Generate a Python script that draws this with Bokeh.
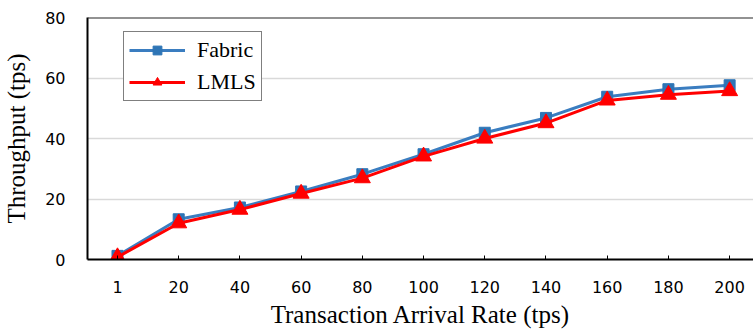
from bokeh.plotting import figure
from bokeh.models import Range1d, FixedTicker, Span
from bokeh.embed import file_html
from bokeh.resources import INLINE

# ---- data ----
categories = ["1", "20", "40", "60", "80", "100", "120", "140", "160", "180", "200"]
fabric = [1.2, 13.3, 17.2, 22.5, 28.2, 34.8, 41.9, 46.8, 53.8, 56.3, 57.6]
lmls = [0.8, 12.0, 16.5, 21.8, 26.9, 34.1, 40.0, 45.1, 52.6, 54.5, 55.7]
y_ticks = [0, 20, 40, 60, 80]

xs = list(range(len(categories)))

p = figure(width=753, height=333, output_backend="svg", toolbar_location=None,
           x_range=Range1d(-0.49, 10.39), y_range=Range1d(0, 80),
           min_border_left=87, min_border_top=17, min_border_right=0, min_border_bottom=74)

p.outline_line_color = None
p.background_fill_color = "white"
p.border_fill_color = "white"

# grid
p.xgrid.grid_line_color = None
p.ygrid.grid_line_color = "#d9d9d9"
p.ygrid.grid_line_width = 1.5
p.ygrid.ticker = FixedTicker(ticks=y_ticks)

# top border
p.add_layout(Span(location=80, dimension="width", line_color="#262626", line_width=2))

# series
blue = "#3a7dc0"
red = "#ff0000"
p.line(xs, fabric, line_color=blue, line_width=3, legend_label="Fabric")
p.scatter(xs, fabric, marker="square", size=11, fill_color="#2e75b6", line_color="#2e75b6",
          legend_label="Fabric")
p.line(xs, lmls, line_color=red, line_width=3, legend_label="LMLS")
p.scatter(xs, lmls, marker="triangle", size=16, fill_color=red, line_color=red,
          legend_label="LMLS")

# x axis
xa = p.xaxis[0]
xa.ticker = FixedTicker(ticks=xs)
xa.major_label_overrides = {i: c for i, c in enumerate(categories)}
xa.axis_line_color = "black"
xa.axis_line_width = 2
xa.major_tick_in = 4
xa.major_tick_out = 0
xa.major_tick_line_color = "black"
xa.major_tick_line_width = 1
xa.minor_tick_line_color = None
xa.major_label_text_font = "DejaVu Sans"
xa.major_label_text_font_size = "16px"
xa.major_label_text_color = "black"
xa.major_label_standoff = 21
xa.axis_label = "Transaction Arrival Rate (tps)"
xa.axis_label_text_font = "Liberation Serif"
xa.axis_label_text_font_size = "25px"
xa.axis_label_text_font_style = "normal"
xa.axis_label_text_color = "black"
xa.axis_label_standoff = 5

# y axis
ya = p.yaxis[0]
ya.ticker = FixedTicker(ticks=y_ticks)
ya.axis_line_color = "black"
ya.axis_line_width = 2
ya.major_tick_line_color = None
ya.minor_tick_line_color = None
ya.major_tick_in = 0
ya.major_tick_out = 0
ya.major_label_text_font = "DejaVu Sans"
ya.major_label_text_font_size = "16px"
ya.major_label_text_color = "black"
ya.major_label_standoff = 22
ya.axis_label = "Throughput (tps)"
ya.axis_label_text_font = "Liberation Serif"
ya.axis_label_text_font_size = "25px"
ya.axis_label_text_font_style = "normal"
ya.axis_label_text_color = "black"
ya.axis_label_standoff = 12

# legend
lg = p.legend[0]
lg.location = (36, 158)
lg.border_line_color = "black"
lg.border_line_width = 1.5
lg.background_fill_color = "white"
lg.background_fill_alpha = 1
lg.label_text_font = "Liberation Serif"
lg.label_text_font_size = "22px"
lg.label_text_color = "black"
lg.padding = 5
lg.spacing = 6
lg.margin = 0
lg.glyph_width = 56
lg.glyph_height = 22
lg.label_height = 22
lg.label_standoff = 12

open("out.html", "w").write(file_html(p, INLINE))
